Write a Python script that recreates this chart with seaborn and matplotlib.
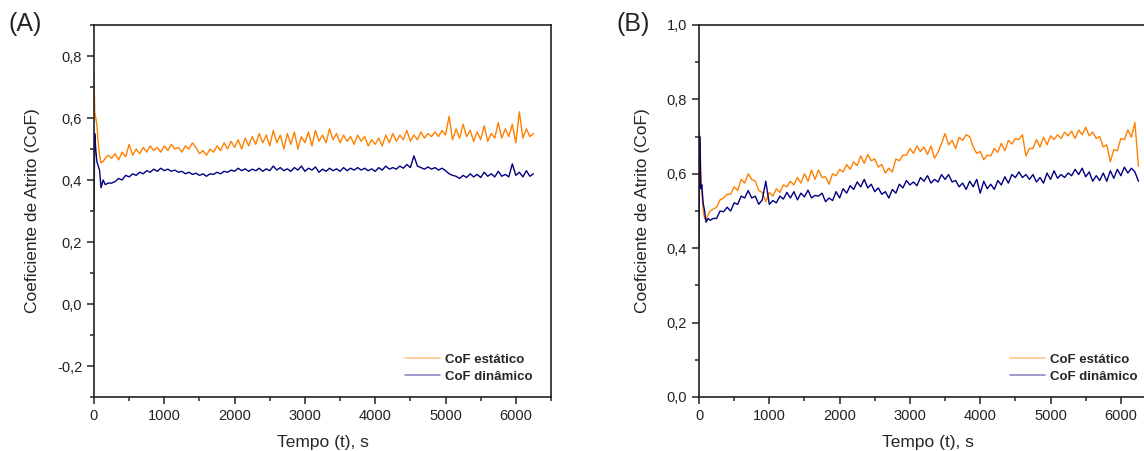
import numpy as np
import pandas as pd
import matplotlib
matplotlib.use("Agg")
import matplotlib.pyplot as plt
from matplotlib.ticker import FuncFormatter, MultipleLocator
import seaborn as sns

# Tempo (s): first seconds sampled finer, then every 50 s
tempo_inicio = [0, 10, 25, 40, 60, 80, 100, 130, 160, 200]
tempo_regular = list(range(250, 6251, 50))
tempo = np.array(tempo_inicio + tempo_regular)

# (A) CoF estatico
a_estatico = [
    0.75, 0.62, 0.60, 0.58, 0.52, 0.48, 0.455, 0.46, 0.47, 0.48,
    0.470, 0.485, 0.465, 0.490, 0.475, 0.515, 0.480, 0.500, 0.485, 0.505,
    0.490, 0.510, 0.495, 0.505, 0.490, 0.510, 0.495, 0.515, 0.500, 0.505,
    0.490, 0.510, 0.500, 0.520, 0.505, 0.485, 0.495, 0.480, 0.500, 0.490,
    0.510, 0.495, 0.520, 0.500, 0.525, 0.505, 0.530, 0.500, 0.535, 0.510,
    0.540, 0.515, 0.550, 0.520, 0.545, 0.510, 0.560, 0.520, 0.545, 0.500,
    0.550, 0.515, 0.555, 0.500, 0.540, 0.520, 0.555, 0.510, 0.560, 0.525,
    0.545, 0.520, 0.565, 0.530, 0.550, 0.520, 0.545, 0.525, 0.540, 0.515,
    0.545, 0.525, 0.540, 0.510, 0.530, 0.515, 0.535, 0.510, 0.545, 0.520,
    0.550, 0.525, 0.545, 0.530, 0.560, 0.525, 0.545, 0.530, 0.555, 0.535,
    0.550, 0.540, 0.555, 0.540, 0.560, 0.545, 0.605, 0.530, 0.565, 0.535,
    0.580, 0.540, 0.560, 0.525, 0.555, 0.530, 0.575, 0.525, 0.550, 0.535,
    0.585, 0.535, 0.565, 0.540, 0.580, 0.520, 0.620, 0.535, 0.565, 0.540,
    0.550,
]

# (A) CoF dinamico
a_dinamico = [
    0.30, 0.55, 0.50, 0.46, 0.445, 0.43, 0.375, 0.40, 0.385, 0.39,
    0.390, 0.395, 0.405, 0.400, 0.415, 0.410, 0.420, 0.415, 0.425, 0.420,
    0.430, 0.425, 0.435, 0.428, 0.438, 0.430, 0.435, 0.428, 0.432, 0.425,
    0.428, 0.420, 0.425, 0.418, 0.422, 0.415, 0.420, 0.412, 0.420, 0.418,
    0.425, 0.420, 0.428, 0.425, 0.432, 0.428, 0.438, 0.430, 0.436, 0.428,
    0.435, 0.430, 0.438, 0.428, 0.436, 0.430, 0.445, 0.432, 0.440, 0.430,
    0.436, 0.428, 0.440, 0.432, 0.445, 0.428, 0.438, 0.432, 0.442, 0.425,
    0.435, 0.428, 0.438, 0.430, 0.436, 0.428, 0.440, 0.430, 0.438, 0.432,
    0.440, 0.432, 0.438, 0.430, 0.436, 0.428, 0.440, 0.432, 0.445, 0.435,
    0.440, 0.435, 0.445, 0.438, 0.450, 0.440, 0.478, 0.445, 0.440, 0.435,
    0.442, 0.435, 0.440, 0.432, 0.438, 0.430, 0.420, 0.415, 0.412, 0.405,
    0.415, 0.408, 0.420, 0.410, 0.418, 0.408, 0.425, 0.412, 0.420, 0.410,
    0.428, 0.412, 0.418, 0.410, 0.452, 0.415, 0.425, 0.410, 0.430, 0.412,
    0.420,
]

# (B) CoF estatico
b_estatico = [
    0.72, 0.70, 0.62, 0.55, 0.50, 0.48, 0.475, 0.49, 0.50, 0.505,
    0.510, 0.530, 0.535, 0.545, 0.545, 0.565, 0.555, 0.585, 0.575, 0.600,
    0.585, 0.580, 0.555, 0.550, 0.525, 0.550, 0.540, 0.560, 0.550, 0.570,
    0.565, 0.580, 0.570, 0.590, 0.575, 0.600, 0.580, 0.610, 0.585, 0.610,
    0.590, 0.592, 0.572, 0.600, 0.595, 0.612, 0.605, 0.625, 0.612, 0.632,
    0.622, 0.648, 0.628, 0.652, 0.635, 0.640, 0.618, 0.625, 0.602, 0.615,
    0.605, 0.640, 0.635, 0.650, 0.650, 0.668, 0.655, 0.675, 0.660, 0.672,
    0.652, 0.675, 0.642, 0.658, 0.682, 0.708, 0.678, 0.690, 0.668, 0.698,
    0.690, 0.705, 0.700, 0.672, 0.655, 0.660, 0.638, 0.650, 0.648, 0.668,
    0.658, 0.682, 0.662, 0.690, 0.680, 0.695, 0.692, 0.705, 0.648, 0.668,
    0.668, 0.692, 0.672, 0.698, 0.678, 0.702, 0.692, 0.705, 0.695, 0.712,
    0.702, 0.715, 0.695, 0.718, 0.705, 0.725, 0.702, 0.712, 0.695, 0.700,
    0.672, 0.678, 0.632, 0.665, 0.662, 0.695, 0.692, 0.718, 0.698, 0.738,
    0.620,
]

# (B) CoF dinamico
b_dinamico = [
    0.40, 0.70, 0.56, 0.57, 0.52, 0.50, 0.47, 0.48, 0.475, 0.48,
    0.480, 0.500, 0.498, 0.510, 0.500, 0.522, 0.518, 0.540, 0.535, 0.555,
    0.535, 0.540, 0.518, 0.530, 0.580, 0.518, 0.528, 0.522, 0.540, 0.532,
    0.550, 0.535, 0.552, 0.530, 0.548, 0.538, 0.556, 0.535, 0.542, 0.540,
    0.548, 0.525, 0.535, 0.528, 0.552, 0.535, 0.560, 0.548, 0.568, 0.558,
    0.578, 0.565, 0.585, 0.562, 0.572, 0.552, 0.562, 0.545, 0.552, 0.535,
    0.558, 0.548, 0.572, 0.562, 0.582, 0.570, 0.578, 0.568, 0.590, 0.580,
    0.595, 0.575, 0.585, 0.578, 0.598, 0.585, 0.598, 0.578, 0.582, 0.565,
    0.575, 0.558, 0.580, 0.565, 0.585, 0.548, 0.580, 0.560, 0.572, 0.558,
    0.582, 0.570, 0.592, 0.575, 0.598, 0.590, 0.605, 0.590, 0.598, 0.585,
    0.598, 0.578, 0.590, 0.575, 0.602, 0.585, 0.608, 0.588, 0.598, 0.590,
    0.602, 0.595, 0.612, 0.598, 0.615, 0.592, 0.605, 0.580, 0.595, 0.582,
    0.602, 0.580, 0.608, 0.588, 0.612, 0.595, 0.618, 0.602, 0.615, 0.605,
    0.580,
]

series = ['CoF estático', 'CoF dinâmico']
cores = {'CoF estático': '#ff8000', 'CoF dinâmico': '#000080'}

sns.set_style("ticks")
plt.rcParams['font.family'] = ['Liberation Sans', 'DejaVu Sans']


def long_form(est, din):
    return pd.DataFrame({
        'Tempo': np.concatenate([tempo, tempo]),
        'CoF': np.concatenate([est, din]),
        'Serie': [series[0]] * len(tempo) + [series[1]] * len(tempo),
    })


virgula = FuncFormatter(lambda v, p: f"{v:.1f}".replace('.', ','))

fig = plt.figure(figsize=(11.44, 4.51), dpi=100)
ax_a = fig.add_axes([94 / 1144, 54 / 451, 457 / 1144, 372 / 451])
ax_b = fig.add_axes([699 / 1144, 54 / 451, 457 / 1144, 372 / 451])

paineis = [
    (ax_a, a_estatico, a_dinamico, (-0.3, 0.9), [-0.2, 0.0, 0.2, 0.4, 0.6, 0.8], '(A)', 9),
    (ax_b, b_estatico, b_dinamico, (0.0, 1.0), [0.0, 0.2, 0.4, 0.6, 0.8, 1.0], '(B)', 616),
]

for ax, est, din, ylim, yticks, letra, xl in paineis:
    df = long_form(est, din)
    sns.lineplot(data=df, x='Tempo', y='CoF', hue='Serie', palette=cores,
                 estimator=None, linewidth=1.0, ax=ax)
    ax.set_xlim(0, 6500)
    ax.set_ylim(*ylim)
    ax.set_yticks(yticks)
    ax.set_xticks([0, 1000, 2000, 3000, 4000, 5000, 6000])
    ax.xaxis.set_minor_locator(MultipleLocator(500))
    ax.yaxis.set_minor_locator(MultipleLocator(0.1))
    ax.yaxis.set_major_formatter(virgula)
    ax.tick_params(which='major', direction='out', length=5, width=1.1,
                   labelsize=10.5, colors='#222222')
    ax.tick_params(which='minor', direction='out', length=3, width=1.1)
    for s in ax.spines.values():
        s.set_visible(True)
        s.set_linewidth(1.2)
        s.set_color('#222222')
    ax.set_xlabel('Tempo (t), s', fontsize=12.5, labelpad=9)
    ax.set_ylabel('Coeficiente de Atrito (CoF)', fontsize=12.5, labelpad=12)

    leg = ax.legend(loc='lower right', bbox_to_anchor=(0.975, 0.02), frameon=False,
                    prop={'weight': 'bold', 'size': 9.5}, handlelength=2.6,
                    handletextpad=0.45, labelspacing=0.35, borderpad=0)
    for h in leg.legend_handles:
        h.set_alpha(0.45)
        h.set_linewidth(1.2)

    fig.text(xl / 1144, 1 - 24 / 451, letra, fontsize=18, va='center', ha='left')

fig.savefig('out.png', dpi=100)
